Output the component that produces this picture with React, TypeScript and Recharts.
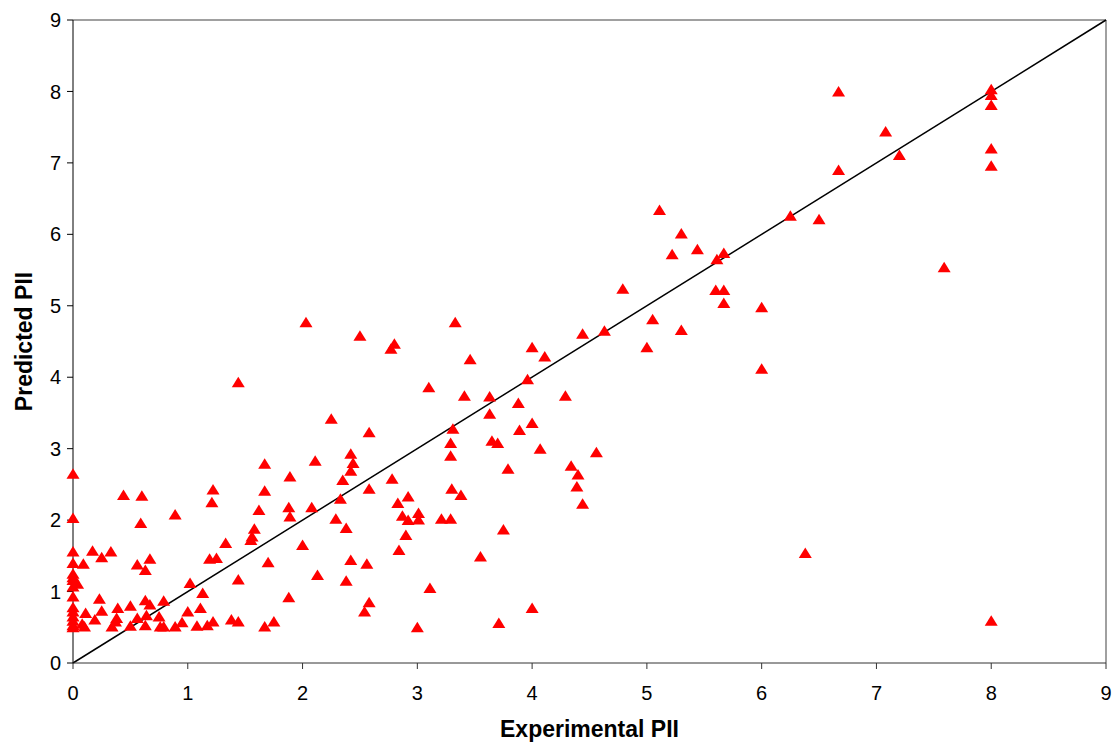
import { ScatterChart, Scatter, XAxis, YAxis, ReferenceLine } from 'recharts';

const experimental = [
  0, 0, 0, 0, 0, 0, 0, 0.04, 0, 0, 0, 0, 0, 0, 0, 0,
  0.44, 0.6, 1.22, 1.21, 0.59, 0.89, 1.62, 1.58, 1.56, 1.55, 1.33, 0.17, 0.33, 0.25, 0.09, 0.56,
  0.67, 0.63, 1.19, 1.25, 1.02, 1.44, 0.23, 1.13, 0.11, 0.25, 0.19, 0.1, 0.08, 0.39, 0.38, 0.37,
  0.34, 0.5, 0.56, 0.5, 0.63, 0.67, 0.64, 0.63, 0.79, 0.75, 0.76, 0.79, 0.89, 1.0, 0.95, 1.11,
  1.08, 1.17, 1.22, 1.38, 1.44,
  1.44, 3.1, 2.25, 2.58, 2.42, 2.44, 2.42, 2.11, 1.67, 1.89, 1.67, 2.35, 2.58, 2.78, 2.33, 1.88,
  1.89, 2.08, 2.29, 2.38, 2.83, 2.92, 2.87, 2.92, 3.01, 3.01, 2.9, 2.84, 2.0, 1.7, 2.42, 2.56,
  2.13, 2.38, 3.11, 1.88, 2.58, 2.54, 1.67, 1.75, 3.0, 2.03, 2.5, 2.77, 2.8,
  3.33, 3.46, 3.41, 3.63, 3.63, 3.88, 3.96, 4.0, 4.11, 4.44, 4.63, 4.29, 3.31, 3.29, 3.29, 3.65,
  3.7, 4.0, 3.89, 4.07, 3.79, 4.56, 4.34, 4.4, 4.39, 4.44, 3.3, 3.38, 3.21, 3.29, 3.75, 3.55,
  4.0, 3.71,
  6.67, 6.67, 5.11, 5.3, 5.22, 5.44, 5.67, 5.61, 6.25, 6.5, 4.79, 5.6, 5.67, 5.67, 6.0, 5.05,
  5.3, 5.0, 6.0, 6.38, 7.59, 7.08, 7.2, 8, 8, 8, 8, 8, 8,
];

const predicted = [
  2.65, 2.03, 1.56, 1.4, 1.25, 1.2, 1.16, 1.11, 1.07, 0.93, 0.78, 0.72, 0.65, 0.59, 0.53, 0.5,
  2.35, 2.34, 2.43, 2.25, 1.96, 2.08, 2.14, 1.88, 1.77, 1.72, 1.68, 1.57, 1.56, 1.48, 1.39, 1.38,
  1.46, 1.3, 1.46, 1.47, 1.12, 1.17, 0.9, 0.98, 0.7, 0.73, 0.61, 0.51, 0.55, 0.77, 0.63, 0.58,
  0.51, 0.8, 0.63, 0.52, 0.88, 0.82, 0.67, 0.53, 0.87, 0.65, 0.51, 0.51, 0.51, 0.72, 0.57, 0.77,
  0.52, 0.53, 0.58, 0.61, 0.58,
  3.93, 3.86, 3.42, 3.23, 2.93, 2.8, 2.69, 2.83, 2.79, 2.61, 2.41, 2.56, 2.44, 2.58, 2.3, 2.18,
  2.05, 2.18, 2.02, 1.89, 2.24, 2.33, 2.06, 2.0, 2.1, 2.01, 1.79, 1.58, 1.65, 1.41, 1.44, 1.39,
  1.23, 1.15, 1.05, 0.92, 0.85, 0.72, 0.51, 0.58, 0.5, 4.77, 4.58, 4.4, 4.47,
  4.77, 4.25, 3.74, 3.73, 3.49, 3.64, 3.97, 4.42, 4.29, 4.61, 4.65, 3.74, 3.28, 3.08, 2.9, 3.11,
  3.08, 3.36, 3.26, 3.0, 2.72, 2.95, 2.76, 2.64, 2.47, 2.23, 2.44, 2.35, 2.02, 2.02, 1.87, 1.49,
  0.77, 0.56,
  8.0, 6.9, 6.34, 6.01, 5.72, 5.79, 5.74, 5.65, 6.26, 6.21, 5.24, 5.22, 5.22, 5.04, 4.98, 4.81,
  4.66, 4.42, 4.12, 1.54, 5.54, 7.44, 7.11, 8.03, 7.95, 7.81, 7.2, 6.96, 0.59,
];

const ticks = [0, 1, 2, 3, 4, 5, 6, 7, 8, 9];

const points = experimental.map((x, i) => ({ x, y: predicted[i] }));

const font = '"Liberation Sans", Arial, sans-serif';

const Triangle = (props: any) => {
  const { cx, cy } = props;
  if (cx == null || cy == null) return null;
  return (
    <polygon
      points={`${cx},${cy - 5.5} ${cx - 6.5},${cy + 5} ${cx + 6.5},${cy + 5}`}
      fill="#ff0000"
    />
  );
};

export default function App() {
  return (
    <div style={{ position: 'fixed', left: 0, top: 0, width: 1114, height: 746, background: '#fff' }}>
      <ScatterChart width={1114} height={746} margin={{ top: 20, right: 8, left: 0, bottom: 0 }}>
        <XAxis
          type="number"
          dataKey="x"
          domain={[0, 9]}
          ticks={ticks}
          height={83}
          stroke="#333"
          tickSize={6}
          tickMargin={17}
          tick={{ fill: '#000', fontSize: 20, fontFamily: font }}
          label={{
            content: (p: any) => {
              const vb = p.viewBox;
              return (
                <text
                  x={vb.x + vb.width / 2}
                  y={737}
                  textAnchor="middle"
                  fontSize={23}
                  fontWeight="bold"
                  fontFamily={font}
                  fill="#000"
                >
                  Experimental PII
                </text>
              );
            },
          }}
        />
        <YAxis
          type="number"
          dataKey="y"
          domain={[0, 9]}
          ticks={ticks}
          width={73}
          stroke="#000"
          tickSize={6}
          tickMargin={6}
          tick={{ fill: '#000', fontSize: 20, fontFamily: font }}
          label={{
            content: (p: any) => {
              const vb = p.viewBox;
              const cy = vb.y + vb.height / 2;
              return (
                <text
                  x={24}
                  y={cy}
                  transform={`rotate(-90 24 ${cy})`}
                  textAnchor="middle"
                  dominantBaseline="central"
                  fontSize={23}
                  fontWeight="bold"
                  fontFamily={font}
                  fill="#000"
                >
                  Predicted PII
                </text>
              );
            },
          }}
        />
        <ReferenceLine y={9} stroke="#808080" strokeWidth={1.5} />
        <ReferenceLine x={9} stroke="#808080" strokeWidth={1.5} />
        <ReferenceLine
          segment={[{ x: 0, y: 0 }, { x: 9, y: 9 }]}
          stroke="#000"
          strokeWidth={1.5}
        />
        <Scatter data={points} shape={Triangle} isAnimationActive={false} />
      </ScatterChart>
    </div>
  );
}
